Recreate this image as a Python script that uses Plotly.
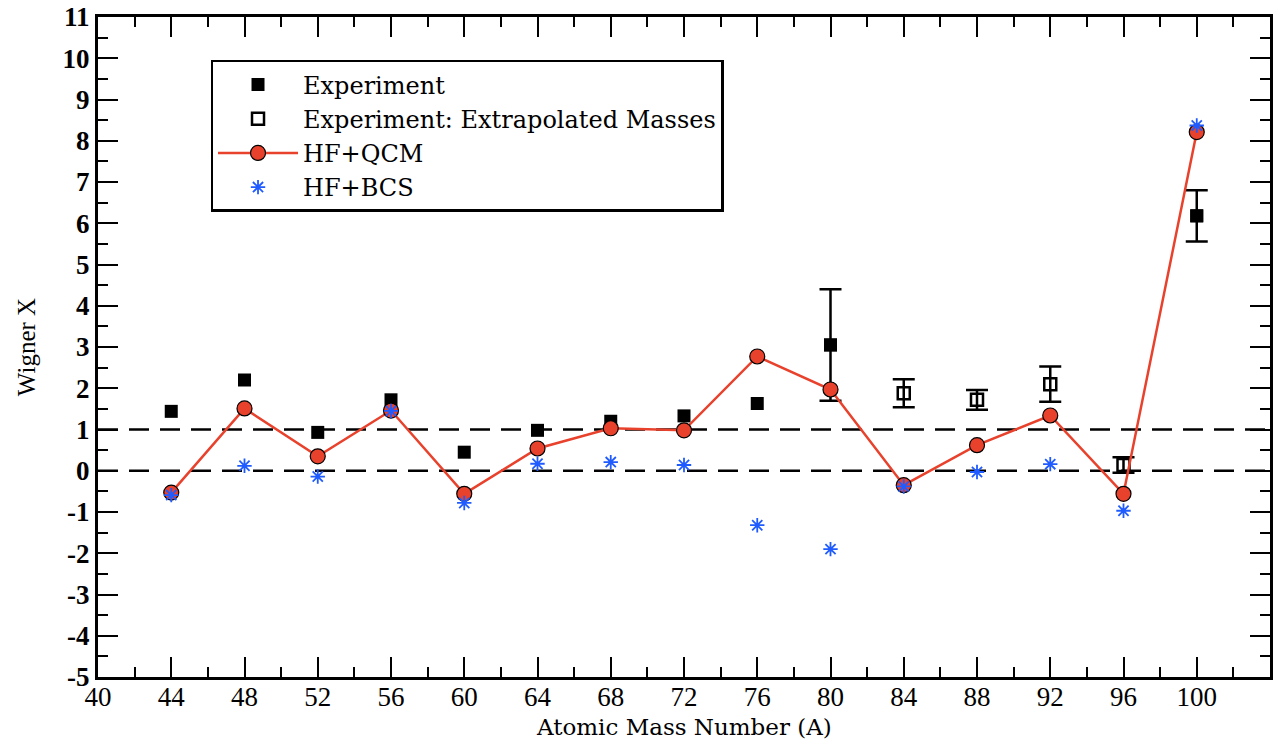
import plotly.graph_objects as go

# Atomic mass numbers
mass_a = [44, 48, 52, 56, 60, 64, 68, 72, 76, 80, 84, 88, 92, 96, 100]

# Experimental Wigner X (measured masses); None = no quoted uncertainty
exp_a = [44, 48, 52, 56, 60, 64, 68, 72, 76, 80, 100]
exp_x = [1.44, 2.20, 0.93, 1.72, 0.45, 0.98, 1.20, 1.33, 1.63, 3.05, 6.18]
exp_err = [None, None, None, None, None, None, None, None, None, 1.35, 0.62]

# Experimental Wigner X from extrapolated masses
extrap_a = [84, 88, 92, 96]
extrap_x = [1.88, 1.72, 2.10, 0.14]
extrap_err = [0.34, 0.24, 0.43, 0.19]

# Theory
qcm_x = [-0.53, 1.51, 0.35, 1.46, -0.56, 0.54, 1.03, 0.98, 2.77, 1.97,
         -0.35, 0.62, 1.34, -0.56, 8.21]
bcs_x = [-0.59, 0.12, -0.14, 1.45, -0.78, 0.17, 0.21, 0.14, -1.32, -1.90,
         -0.38, -0.03, 0.16, -0.97, 8.37]

x_ticks = list(range(40, 105, 4))
y_ticks = list(range(-5, 12, 1))
y_tick_text = [str(v) for v in y_ticks]  # plain hyphen minus
ref_levels = [0, 1]

DIGITS = "Liberation Serif, Times New Roman, serif"
TEXT = "DejaVu Serif, serif"
RED = "#e8412c"
BLUE = "#1f5bff"

# points that carry an uncertainty get their error bars from a helper trace
err_pts = [(a, v, e) for a, v, e in zip(exp_a, exp_x, exp_err) if e is not None]

fig = go.Figure()

for lvl in ref_levels:
    fig.add_trace(go.Scatter(
        x=[40, 104], y=[lvl, lvl], mode="lines",
        line=dict(color="black", width=2.5, dash="20px,11px"),
        showlegend=False, hoverinfo="skip"))

fig.add_trace(go.Scatter(
    x=[p[0] for p in err_pts], y=[p[1] for p in err_pts], mode="markers",
    marker=dict(symbol="square", size=13, color="black"),
    error_y=dict(type="data", array=[p[2] for p in err_pts], visible=True,
                 color="black", thickness=2.5, width=11),
    showlegend=False, hoverinfo="skip"))

fig.add_trace(go.Scatter(
    x=exp_a, y=exp_x, mode="markers", name="Experiment",
    marker=dict(symbol="square", size=13, color="black")))

fig.add_trace(go.Scatter(
    x=extrap_a, y=extrap_x, mode="markers",
    name="Experiment: Extrapolated Masses",
    marker=dict(symbol="square-open", size=12, color="black",
                line=dict(width=2.5, color="black")),
    error_y=dict(type="data", array=extrap_err, visible=True,
                 color="black", thickness=2.5, width=11)))

fig.add_trace(go.Scatter(
    x=mass_a, y=qcm_x, mode="lines+markers", name="HF+QCM",
    line=dict(color=RED, width=2.5),
    marker=dict(symbol="circle", size=15, color=RED,
                line=dict(color="black", width=1.2))))

fig.add_trace(go.Scatter(
    x=mass_a, y=bcs_x, mode="markers", name="HF+BCS",
    marker=dict(symbol="asterisk-open", size=12, color=BLUE,
                line=dict(color=BLUE, width=1.8))))

axis_common = dict(
    showline=True, linecolor="black", linewidth=3, mirror="allticks",
    ticks="inside", tickcolor="black", tickwidth=1.5, ticklen=20,
    showgrid=False, zeroline=False, automargin=False,
)

fig.update_xaxes(
    **axis_common, range=[40, 104], tickvals=x_ticks,
    minor=dict(ticks="inside", ticklen=10, tickwidth=1.5, dtick=2,
               tickcolor="black", showgrid=False),
    tickfont=dict(family=DIGITS, size=27, color="black"),
    ticklabelstandoff=-6)

fig.update_yaxes(
    **axis_common, range=[-5, 11], tickvals=y_ticks, ticktext=y_tick_text,
    minor=dict(ticks="inside", ticklen=10, tickwidth=1.5, dtick=0.5,
               tickcolor="black", showgrid=False),
    tickfont=dict(family=DIGITS, size=27, color="black", weight="bold"),
    title=dict(text="Wigner X", standoff=20,
               font=dict(family=DIGITS, size=25, color="black")))

# x-axis title placed as an annotation just below the tick labels
fig.add_annotation(
    text="Atomic Mass Number (A)", xref="paper", yref="paper",
    x=0.5, y=-0.075, xanchor="center", yanchor="middle", showarrow=False,
    font=dict(family=TEXT, size=23, color="black"))

fig.update_layout(
    width=1276, height=739,
    margin=dict(l=98, r=6, t=17, b=62),
    paper_bgcolor="white", plot_bgcolor="white",
    showlegend=True,
    legend=dict(
        x=0.096, y=0.935, xanchor="left", yanchor="top",
        bgcolor="white", bordercolor="black", borderwidth=2.5,
        font=dict(family=TEXT, size=24, color="black"),
        itemwidth=80, tracegroupgap=0),
)

fig.write_html("out.html")
